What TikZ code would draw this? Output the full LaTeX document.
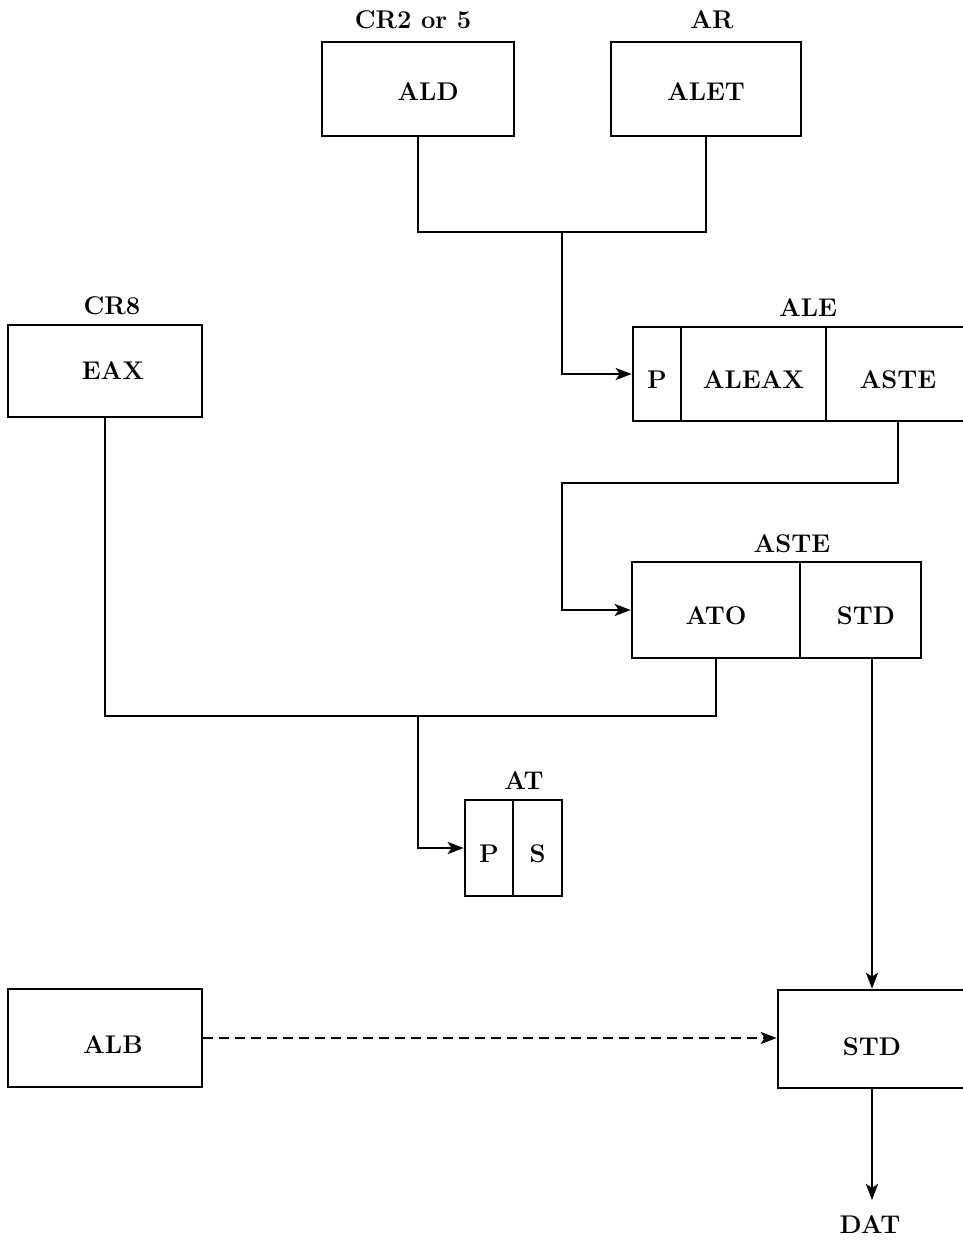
\documentclass[tikz,border=0pt]{standalone}
\usetikzlibrary{arrows.meta}
\newcommand{\dn}[2]{\raisebox{-#1}[\height][\depth]{#2}}
\begin{document}
\begin{tikzpicture}[x=0.5pt,y=-0.5pt,
  line width=1.3pt,
  every node/.style={font=\fontsize{12.8}{15}\selectfont\bfseries},
  box/.style={draw, line width=1.3pt, inner sep=0pt, minimum height=47pt},
  lbl/.style={inner sep=1pt},
  arr/.style={-{Stealth[length=8pt,width=6pt,inset=2pt]}},
  dsh/.style={dash pattern=on 5pt off 3pt}]
\useasboundingbox (0,0) rectangle (963,1243);
\clip (0,0) rectangle (963,1243);
% top boxes
\node[box, minimum width=96pt] (ALD) at (418,89) {\hspace{10pt}\dn{1.5pt}{ALD}};
\node[lbl] (cr25) at (413,20) {CR2 or 5};
\node[box, minimum width=95pt] (ALET) at (706,89) {\dn{1.5pt}{ALET}};
\node[lbl] (ar) at (712,20) {AR};
% EAX
\node[box, minimum width=97pt, minimum height=46pt] (EAX) at (105,371) {\hspace{8pt}EAX};
\node[lbl] (cr8) at (112,306) {CR8};
% ALE record
\node[box, minimum width=24pt] (ALEP) at (657,374) {\dn{3pt}{P}};
\node[box, minimum width=72.5pt] (ALEAX) at (753.5,374) {\dn{3pt}{ALEAX}};
\node[box, minimum width=72pt] (ALEASTE) at (898,374) {\dn{3pt}{ASTE}};
\node[lbl] (ale) at (808,308) {ALE};
% ASTE record
\node[box, minimum width=84pt, minimum height=48pt] (ATO) at (716,610) {\dn{3pt}{ATO}};
\node[box, minimum width=60.5pt, minimum height=48pt] (STDc) at (860.5,610) {\hspace{5.5pt}\dn{3pt}{STD}};
\node[lbl] (aste) at (792,544) {ASTE};
% AT record
\node[box, minimum width=24pt, minimum height=48pt] (ATP) at (489,848) {\dn{3pt}{P}};
\node[box, minimum width=24.5pt, minimum height=48pt] (ATS) at (537.5,848) {\dn{3pt}{S}};
\node[lbl] (at) at (524,781) {AT};
% bottom
\node[box, minimum width=97pt, minimum height=49pt] (ALB) at (105,1038) {\hspace{8pt}\dn{3.5pt}{ALB}};
\node[box, minimum width=94pt, minimum height=49pt] (STD) at (872,1039) {\dn{4pt}{STD}};
\node[lbl] (DAT) at (870,1225) {DAT};
% connectors
\coordinate (j1) at (562,232);
\draw (ALD.south) -- (ALD.south |- j1) -- (ALET.south |- j1) -- (ALET.south);
\draw[arr] (j1) |- (ALEP.west);
\coordinate (j2) at (562,483);
\draw[arr] (ALEASTE.south) -- (ALEASTE.south |- j2) -- (j2) |- (ATO.west);
\coordinate (j3) at (418,716);
\draw (EAX.south) -- (EAX.south |- j3) -- (ATO.south |- j3) -- (ATO.south);
\draw[arr] (j3) |- (ATP.west);
\draw[arr] (STD.north |- STDc.south) -- (STD.north);
\draw[arr,dsh] (ALB.east) -- (STD.west |- ALB.east);
\coordinate (datend) at (872,1200);
\draw[arr] (STD.south) -- (datend);
\end{tikzpicture}
\end{document}
